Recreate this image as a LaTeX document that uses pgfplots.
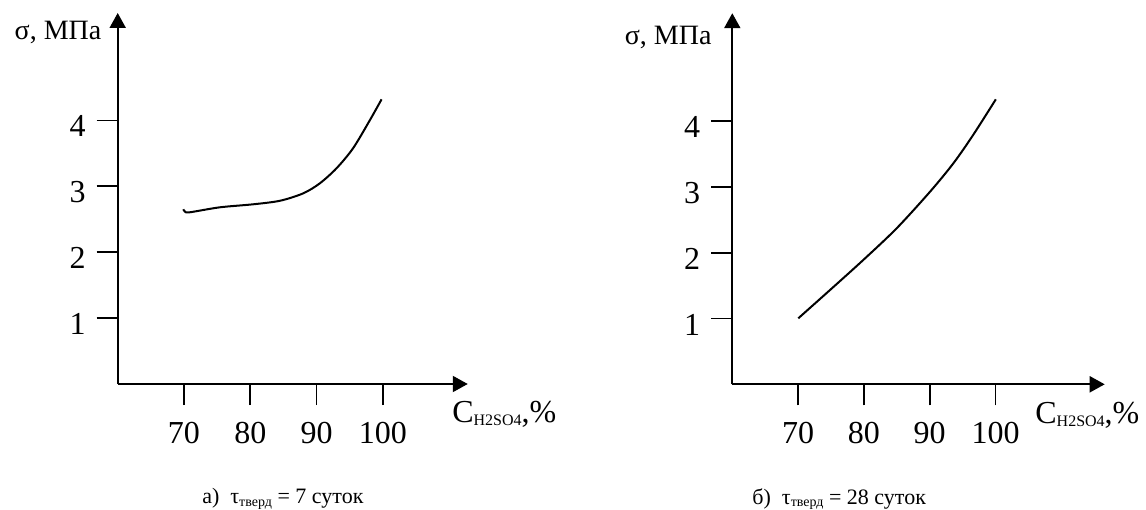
\documentclass[border=0pt]{standalone}
\usepackage{fontspec}
\setmainfont{Liberation Serif}
\usepackage{pgfplots}
\pgfplotsset{compat=1.18}
\usetikzlibrary{arrows.meta}
\newcommand{\clab}{{\fontsize{16}{19}\selectfont C\raisebox{-1.5pt}{\fontsize{8}{9}\selectfont H2SO4},\%}}
\newcommand{\slab}{{\fontsize{14}{17}\selectfont σ, МПа}}
\begin{document}
\begin{tikzpicture}
\useasboundingbox (0,0) rectangle (573pt,254.5pt);
\pgfplotsset{
  myax/.style={
    axis lines=left,
    clip=false,
    axis line style={line width=1pt, -{Triangle[length=7.5pt,width=8pt]}},
    xmin=60, ymin=0,
    xtick={70,80,90,100}, ytick={1,2,3,4},
    tick align=outside,
    major tick length=10.5pt,
    tick style={line width=0.8pt, black},
    /pgf/number format/assume math mode=true,
    ticklabel style={font=\fontsize{16}{19}\selectfont},
    xticklabel style={yshift=-5pt},
    yticklabel style={xshift=-2pt, yshift=-3pt},
  }
}
% left panel
\begin{axis}[myax,
  at={(58.85pt,62.5pt)}, anchor=south west,
  x=3.315pt, y=32.95pt,
  xmax=112.8, ymax=5.63,
  xlabel={\clab},
  ylabel={\slab},
  every axis x label/.style={at={(axis cs:110.4,-0.59)}, anchor=base west, inner sep=0pt},
  every axis y label/.style={at={(axis cs:57.6,5.235)}, anchor=base east, inner sep=0pt},
]
\addplot[smooth, tension=0.5, line width=1pt, black] coordinates {
(69.9,2.651) (70.15,2.615) (70.9,2.606) (75.4,2.681) (80.45,2.727)
(84.5,2.781) (88.0,2.894) (90.5,3.046) (93.0,3.273) (95.5,3.577)
(98.05,4.006) (99.8,4.32)};
\node[anchor=base west, inner sep=0pt, font=\fontsize{11}{13}\selectfont] at (axis cs:72.7,-1.82) {а)\ \ τ\raisebox{-1.2pt}{\fontsize{7}{8}\selectfont тверд} = 7 суток};
\end{axis}
% right panel
\begin{axis}[myax,
  at={(366.15pt,62.35pt)}, anchor=south west,
  x=3.29pt, y=32.9pt,
  xmax=116.6, ymax=5.64,
  xlabel={\clab},
  ylabel={\slab},
  every axis x label/.style={at={(axis cs:106.0,-0.59)}, anchor=base west, inner sep=0pt},
  every axis y label/.style={at={(axis cs:56.9,5.157)}, anchor=base east, inner sep=0pt},
]
\addplot[smooth, tension=0.5, line width=1pt, black] coordinates {
(70.03,1.003) (74.85,1.433) (79.9,1.889) (84.98,2.371) (90.05,2.927)
(93.6,3.359) (96.6,3.789) (100.05,4.331)};
\node[anchor=base west, inner sep=0pt, font=\fontsize{11}{13}\selectfont] at (axis cs:63.0,-1.82) {б)\ \ τ\raisebox{-1.2pt}{\fontsize{7}{8}\selectfont тверд} = 28 суток};
\end{axis}
\end{tikzpicture}
\end{document}
